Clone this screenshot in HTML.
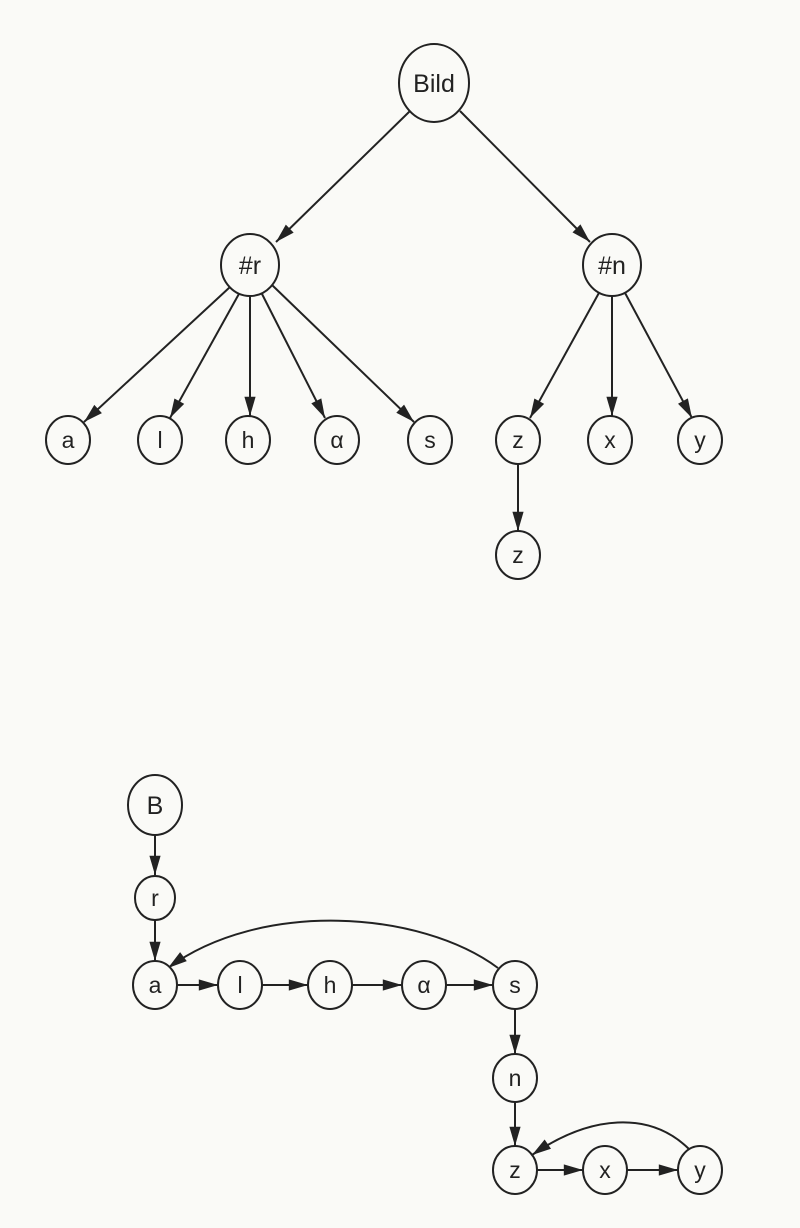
<!DOCTYPE html>
<html><head><meta charset="utf-8"><style>
html,body{margin:0;padding:0;background:#fafaf7;}
svg{display:block}
text{font-family:"Liberation Sans",sans-serif;font-size:23px;fill:#222;text-anchor:middle;dominant-baseline:central}
</style></head><body>
<svg width="800" height="1228" viewBox="0 0 800 1228" xmlns="http://www.w3.org/2000/svg">
<defs><marker id="ar" viewBox="0 0 12 10" refX="12" refY="5" markerWidth="20" markerHeight="16" markerUnits="userSpaceOnUse" orient="auto"><path d="M0,1.5 L12,5 L0,8.5 Z" fill="#222"/></marker></defs>
<g stroke="#222" stroke-width="2" fill="none" marker-end="url(#ar)">
<line x1="410" y1="111" x2="276" y2="242"/>
<line x1="460" y1="111" x2="590" y2="242"/>
<line x1="230" y1="287" x2="84" y2="422"/>
<line x1="240" y1="292" x2="170" y2="418"/>
<line x1="250" y1="294" x2="250" y2="416"/>
<line x1="261" y1="292" x2="325" y2="418"/>
<line x1="272" y1="285" x2="414" y2="422"/>
<line x1="600" y1="291" x2="530" y2="418"/>
<line x1="612" y1="294" x2="612" y2="416"/>
<line x1="624" y1="291" x2="692" y2="418"/>
<line x1="518" y1="464" x2="518" y2="531"/>
<line x1="155" y1="834" x2="155" y2="875"/>
<line x1="155" y1="920" x2="155" y2="961"/>
<line x1="177" y1="985" x2="218" y2="985"/>
<line x1="262" y1="985" x2="308" y2="985"/>
<line x1="352" y1="985" x2="402" y2="985"/>
<line x1="446" y1="985" x2="493" y2="985"/>
<line x1="515" y1="1009" x2="515" y2="1054"/>
<line x1="515" y1="1102" x2="515" y2="1146"/>
<line x1="537" y1="1170" x2="583" y2="1170"/>
<line x1="627" y1="1170" x2="678" y2="1170"/>
<path d="M498,968 C420,910 260,900 168,968"/>
<path d="M690,1150 C650,1110 590,1115 532,1155"/>
</g>
<g stroke="#222" stroke-width="2" fill="#fafaf7">
<ellipse cx="434" cy="83" rx="35" ry="39"/>
<ellipse cx="250" cy="265" rx="29" ry="31"/>
<ellipse cx="612" cy="265" rx="29" ry="31"/>
<ellipse cx="68" cy="440" rx="22" ry="24"/>
<ellipse cx="160" cy="440" rx="22" ry="24"/>
<ellipse cx="248" cy="440" rx="22" ry="24"/>
<ellipse cx="337" cy="440" rx="22" ry="24"/>
<ellipse cx="430" cy="440" rx="22" ry="24"/>
<ellipse cx="518" cy="440" rx="22" ry="24"/>
<ellipse cx="610" cy="440" rx="22" ry="24"/>
<ellipse cx="700" cy="440" rx="22" ry="24"/>
<ellipse cx="518" cy="555" rx="22" ry="24"/>
<ellipse cx="155" cy="805" rx="27" ry="30"/>
<ellipse cx="155" cy="898" rx="20" ry="22"/>
<ellipse cx="155" cy="985" rx="22" ry="24"/>
<ellipse cx="240" cy="985" rx="22" ry="24"/>
<ellipse cx="330" cy="985" rx="22" ry="24"/>
<ellipse cx="424" cy="985" rx="22" ry="24"/>
<ellipse cx="515" cy="985" rx="22" ry="24"/>
<ellipse cx="515" cy="1078" rx="22" ry="24"/>
<ellipse cx="515" cy="1170" rx="22" ry="24"/>
<ellipse cx="605" cy="1170" rx="22" ry="24"/>
<ellipse cx="700" cy="1170" rx="22" ry="24"/>
</g>
<text x="434" y="84" style="font-size:25px">Bild</text>
<text x="250" y="266" style="font-size:25px">#r</text>
<text x="612" y="266" style="font-size:25px">#n</text>
<text x="68" y="440">a</text>
<text x="160" y="440">l</text>
<text x="248" y="440">h</text>
<text x="337" y="440">α</text>
<text x="430" y="440">s</text>
<text x="518" y="440">z</text>
<text x="610" y="440">x</text>
<text x="700" y="440">y</text>
<text x="518" y="555">z</text>
<text x="155" y="806" style="font-size:25px">B</text>
<text x="155" y="898">r</text>
<text x="155" y="985">a</text>
<text x="240" y="985">l</text>
<text x="330" y="985">h</text>
<text x="424" y="985">α</text>
<text x="515" y="985">s</text>
<text x="515" y="1078">n</text>
<text x="515" y="1170">z</text>
<text x="605" y="1170">x</text>
<text x="700" y="1170">y</text>
</svg>
</body></html>
